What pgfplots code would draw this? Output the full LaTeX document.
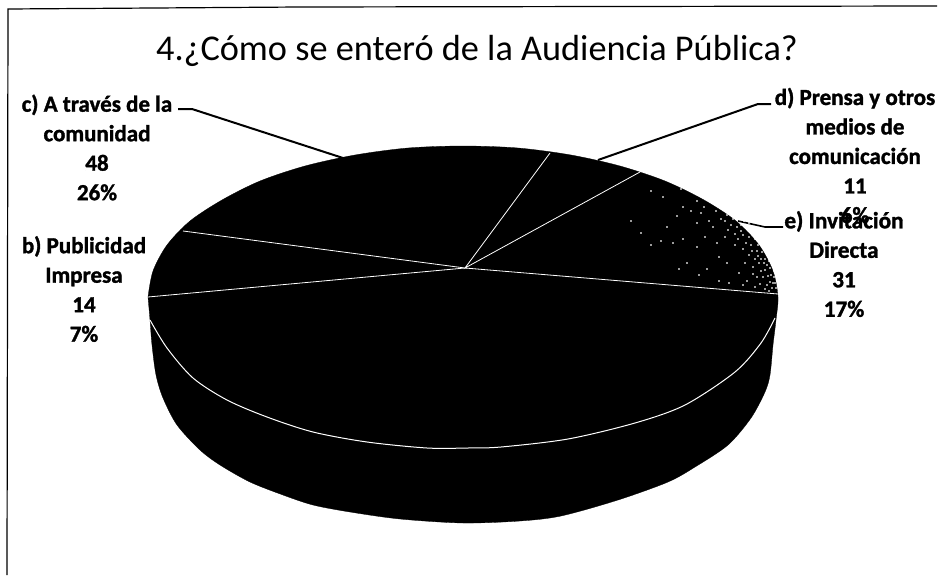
\documentclass[border=0pt]{standalone}
\usepackage{fontspec}
\setmainfont{Carlito}[BoldFeatures={FakeBold=1.4}]
\usepackage{pgfplots}
\pgfplotsset{compat=1.18}
\begin{document}
\begin{tikzpicture}
\begin{axis}[
    width=938pt, height=575pt, scale only axis,
    xmin=0, xmax=938, ymin=0, ymax=575, y dir=reverse,
    hide axis, clip=false
]
% hide axis gives no bounding box, so keep the whole page
\path (axis cs:0,0) rectangle (axis cs:938,575);
% scan frame
\addplot[black, line width=1.2pt] coordinates {(7,575) (8,9) (300,7) (937,6)};
% pie body, outline
\addplot[fill=black, draw=black, line width=0.3pt, smooth, tension=0.5] coordinates {
    (148,297) (150,320) (152,345) (156,375) (163,398) (177,425) (200,450) (220,465)
    (250,482) (283,495) (313,505) (350,512) (400,519) (463,523) (520,521) (561,516)
    (618,500) (668,482) (695,467) (728,445) (751,418) (765,392) (770,375) (773,345)
    (776,320) (778,297) (773,271) (759,245) (736,221) (704,200) (665,181) (620,166)
    (571,155) (518,148) (463,146) (408,148) (355,155) (305,166) (260,181) (222,200)
    (190,221) (167,245) (153,271) (148,297)
};
% rim
\addplot[white, line width=1pt, smooth, tension=0.5] coordinates {
    (150,320) (167,348) (193,378) (227,400) (267,417) (313,432) (367,442) (427,448)
    (468,448) (501,447) (568,439) (635,423) (685,405) (735,372) (761,343) (775,318)
};
% slice borders
\addplot[white, line width=0.8pt] coordinates {(183,231) (465,268) (148,297)};
\addplot[white, line width=0.8pt] coordinates {(550,153) (465,268) (640,172)};
\addplot[white, line width=0.8pt] coordinates {(465,268) (778,294)};
% stipple on slice e
\addplot[only marks, mark=*, mark size=0.55pt, white, mark options={draw=none, fill=white}] coordinates {
    (651,191) (663,197) (681,189) (697,201) (704,207) (716,211) (723,207) (727,215)
    (733,219) (739,217) (741,225) (747,227) (749,223) (753,231) (755,239) (761,233)
    (763,243) (765,251) (769,243) (771,255) (773,263) (774,271) (771,275) (775,283)
    (772,288) (767,285) (763,277) (767,265) (761,259) (761,271) (757,251) (751,245)
    (749,237) (743,235) (741,231) (737,227) (731,225) (725,221) (721,219) (713,227)
    (709,221) (701,213) (697,223) (691,211) (683,207) (677,216) (667,227) (661,241)
    (673,243) (683,239) (697,247) (705,237) (717,243) (725,237) (735,245) (743,249)
    (749,255) (745,263) (753,267) (757,277) (747,281) (739,273) (727,263) (719,257)
    (707,269) (699,275) (687,263) (679,269) (651,245) (641,233) (631,221) (743,285)
    (729,283) (719,281) (755,287) (765,289) (769,291) (759,263) (765,259) (772,249)
    (770,268) (768,276) (774,277) (776,288) (770,282) (765,270) (760,284) (753,274)
    (758,245) (752,251) (746,243) (738,239) (728,230) (735,234) (744,221) (758,256)
    (764,263) (769,261) (771,246) (766,239) (762,252) (776,276) (773,283) (755,259)
};
% leaders
\addplot[black, line width=2pt] coordinates {(178,109) (192,109) (343,158)};
\addplot[black, line width=2pt] coordinates {(771,104) (758,104) (598,160)};
\addplot[black, line width=1.6pt] coordinates {(783,227) (765,227) (738,221)};
% title and labels
\node[anchor=center] at (axis cs:477,51) {\fontsize{36.3}{44}\selectfont 4.¿Cómo se enteró de la Audiencia Pública?};
\node[align=center, font=\fontsize{23}{29.5}\selectfont\bfseries] at (axis cs:97,147.5)
    {c) A través de la\\comunidad\\48\\26\%};
\node[align=center, font=\fontsize{23}{29.5}\selectfont\bfseries] at (axis cs:84,289)
    {b) Publicidad\\Impresa\\14\\7\%};
\node[inner sep=0pt, align=center, font=\fontsize{23}{29.5}\selectfont\bfseries] at (axis cs:855,155.5)
    {d) Prensa y otros\\medios de\\comunicación\\11\\6\%};
\node[inner sep=0pt, align=center, font=\fontsize{23.3}{29.5}\selectfont\bfseries] at (axis cs:844,264)
    {e) Invitación\\Directa\\31\\17\%};
\end{axis}
\end{tikzpicture}
\end{document}
